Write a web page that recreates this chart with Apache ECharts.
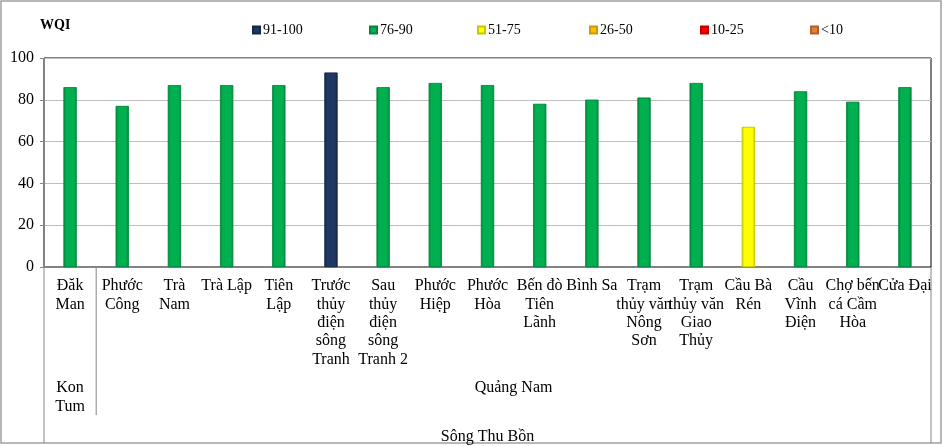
<!DOCTYPE html>
<html>
<head>
<meta charset="utf-8">
<script src="https://cdn.jsdelivr.net/npm/echarts@6/dist/echarts.min.js"></script>
<style>
html,body{margin:0;padding:0;background:#fff;}
#c{width:945px;height:446px;}
</style>
</head>
<body>
<div id="c"></div>
<script>
const categories = ['Đăk\nMan','Phước\nCông','Trà\nNam','Trà Lập','Tiên\nLập','Trước\nthủy\nđiện\nsông\nTranh','Sau\nthủy\nđiện\nsông\nTranh 2','Phước\nHiệp','Phước\nHòa','Bến đò\nTiên\nLãnh','Bình Sa','Trạm\nthủy văn\nNông\nSơn','Trạm\nthủy văn\nGiao\nThủy','Cầu Bà\nRén','Cầu\nVĩnh\nĐiện','Chợ bến\ncá Cầm\nHòa','Cửa Đại'];
const values = [86,77,87,87,87,93,86,88,87,78,80,81,88,67,84,79,86];
const provinceLabels = ['Kon\nTum','Quảng Nam'];
const provinceSpans = [1,16];
const riverLabel = 'Sông Thu Bồn';
const classNames = ['91-100','76-90','51-75','26-50','10-25','<10'];
const classMin = [91,76,51,26,10,-Infinity];
const classMax = [100,90,75,50,25,9.999];
const classColors = ['#1F3864','#00B050','#FFFF00','#FFC000','#FF0000','#E0823D'];
const classBorders = ['#142848','#00883C','#C8C800','#D09800','#C00000','#B0602A'];

const FONT = '"Liberation Serif","Times New Roman",serif';
const chart = echarts.init(document.getElementById('c'));

function shade(col, edge){
  return {type:'linear',x:0,y:0,x2:1,y2:0,colorStops:[
    {offset:0,color:edge},{offset:0.2,color:col},{offset:0.8,color:col},{offset:1,color:edge}]};
}

const series = classNames.map((n,k)=>({
  name:n,
  type:'bar',
  barWidth:13,
  barGap:'-100%',
  data: values.map(v => (v>=classMin[k] && v<=classMax[k]) ? v : '-'),
  itemStyle:{color:shade(classColors[k], classBorders[k]), borderColor:classBorders[k], borderWidth:0.6},
  emphasis:{disabled:true}
}));

const legendLeft = [252, 369, 477, 589, 700, 810];
const legends = classNames.map((n,k)=>({
  data:[n], left:legendLeft[k], top:23, itemWidth:7, itemHeight:7, itemGap:0, icon:'rect', padding:0,
  textStyle:{fontFamily:FONT, fontSize:14, color:'#000', padding:[0,0,0,-2]}
}));

const gridL = 44, gridR = 14, gridT = 58, gridB = 179;

chart.setOption({
  animation:false,
  backgroundColor:'#fff',
  title:{text:'WQI', left:40, top:18, padding:0, textStyle:{fontFamily:FONT, fontWeight:'bold', fontSize:14, color:'#000'}},
  legend:legends,
  grid:{left:gridL, right:gridR, top:gridT, bottom:gridB, show:true, borderColor:'#000', borderWidth:1},
  xAxis:{
    type:'category', data:categories,
    axisLine:{lineStyle:{color:'#868686'}},
    axisTick:{show:false},
    axisLabel:{interval:0, fontFamily:FONT, fontSize:16, color:'#000', lineHeight:18.3, margin:10, align:'center'}
  },
  yAxis:{
    type:'value', min:0, max:100, interval:20,
    axisLine:{show:true, lineStyle:{color:'#868686'}},
    axisTick:{show:true, length:4, lineStyle:{color:'#868686'}},
    axisLabel:{fontFamily:FONT, fontSize:16, color:'#000', margin:10},
    splitLine:{lineStyle:{color:'#BFBFBF'}}
  },
  series:series
});

// Multi-level category annotation positioned from the axis scale
const c0 = chart.convertToPixel({xAxisIndex:0}, 0);
const c1 = chart.convertToPixel({xAxisIndex:0}, 1);
const half = (c1-c0)/2;
const bound = i => chart.convertToPixel({xAxisIndex:0}, i) - half;
const baseY = chart.convertToPixel({yAxisIndex:0}, 0);
const lastIdx = categories.length;
const left = bound(0), right = bound(lastIdx-1) + 2*half;
const bottom = 443;
const g = [];
g.push({type:'rect', shape:{x:1,y:1,width:940,height:442}, style:{fill:null, stroke:'#A0A0A0', lineWidth:1.5}, silent:true});
g.push({type:'line', shape:{x1:left,y1:baseY,x2:left,y2:bottom}, style:{stroke:'#868686', lineWidth:1}});
g.push({type:'line', shape:{x1:right,y1:baseY,x2:right,y2:bottom}, style:{stroke:'#868686', lineWidth:1}});
let start = 0;
provinceLabels.forEach((lab, k)=>{
  const end = start + provinceSpans[k];
  const cx = (bound(start) + bound(end)) / 2;
  g.push({type:'text', x:cx, y:379, style:{text:lab, font:'16px '+FONT, fill:'#000', align:'center', verticalAlign:'top', lineHeight:18.3}});
  if (end < lastIdx) {
    g.push({type:'line', shape:{x1:bound(end),y1:baseY,x2:bound(end),y2:415}, style:{stroke:'#868686', lineWidth:1}});
  }
  start = end;
});
g.push({type:'text', x:(left+right)/2, y:429, style:{text:riverLabel, font:'16px '+FONT, fill:'#000', align:'center', verticalAlign:'top'}});
chart.setOption({graphic:g});
</script>
</body>
</html>
